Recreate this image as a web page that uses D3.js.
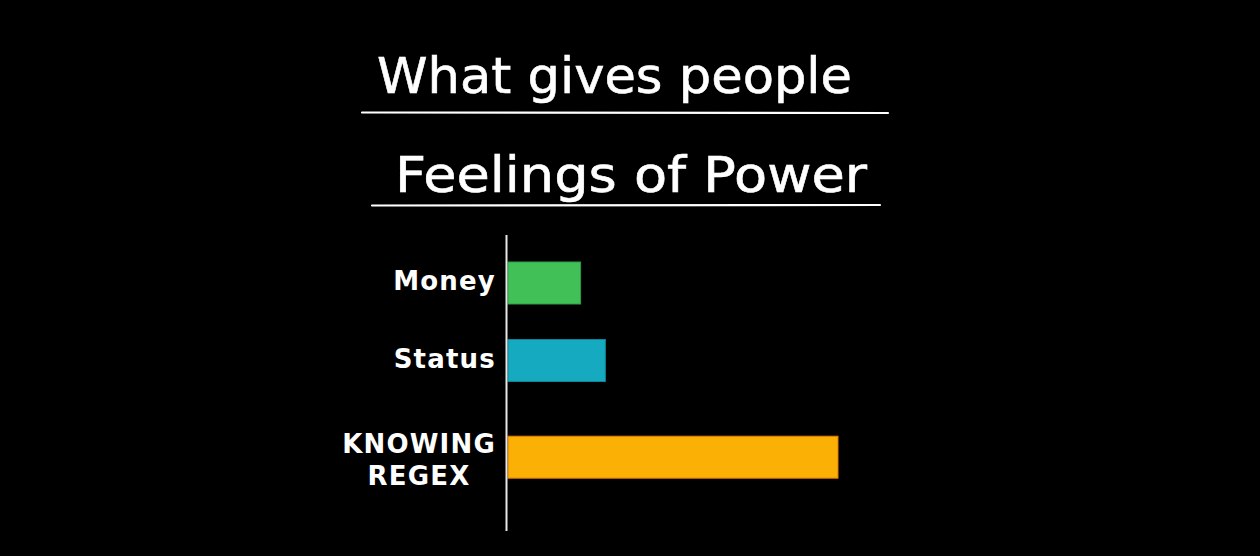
<!DOCTYPE html>
<html>
<head>
<meta charset="utf-8">
<script src="https://cdn.jsdelivr.net/npm/d3@7"></script>
<style>
  html, body { margin: 0; padding: 0; background: #000; }
  svg { display: block; }
</style>
</head>
<body>
<svg id="chart" width="1260" height="556"></svg>
<script>
// ---- data ----
const titleLines = ["What gives people", "Feelings of Power"];
const categories = ["Money", "Status", "KNOWING\nREGEX"];
const values = [22, 29.5, 100];
const fillColors = ["#40c057", "#15aabf", "#fab005"];
const strokeColors = ["#2f9e44", "#0c8599", "#e67700"];

// ---- layout ----
const W = 1260, H = 556;
const svg = d3.select("#chart");
svg.append("rect").attr("width", W).attr("height", H).attr("fill", "#000");

const x = d3.scaleLinear().domain([0, 100]).range([508, 838]);
const yCenter = d3.scaleOrdinal().domain(categories).range([283, 360.5, 457.2]);
const barH = 42;

// title
const titleFont = "'DejaVu Sans', sans-serif";
const titleSpecs = [
  { x: 377, y: 93, len: 475, ulx1: 362, ulx2: 888, uly1: 112.5, uly2: 113 },
  { x: 395, y: 192, len: 472, ulx1: 372, ulx2: 880, uly1: 205.5, uly2: 205 }
];
titleLines.forEach((t, i) => {
  const s = titleSpecs[i];
  svg.append("text")
    .attr("x", s.x).attr("y", s.y)
    .attr("fill", "#fff")
    .attr("stroke", "#fff")
    .attr("stroke-width", 0.6)
    .attr("font-family", titleFont)
    .attr("font-size", 50)
    .attr("textLength", s.len)
    .attr("lengthAdjust", "spacingAndGlyphs")
    .text(t);
  svg.append("line")
    .attr("x1", s.ulx1).attr("x2", s.ulx2)
    .attr("y1", s.uly1).attr("y2", s.uly2)
    .attr("stroke", "#fff").attr("stroke-width", 2.2)
    .attr("stroke-linecap", "round");
});

// bars
svg.append("g").selectAll("rect")
  .data(categories)
  .join("rect")
  .attr("x", x(0))
  .attr("y", d => yCenter(d) - barH / 2)
  .attr("width", (d, i) => x(values[i]) - x(0))
  .attr("height", barH)
  .attr("fill", (d, i) => fillColors[i])
  .attr("stroke", (d, i) => strokeColors[i])
  .attr("stroke-width", 1);

// axis line
svg.append("line")
  .attr("x1", 506.5).attr("x2", 506.5)
  .attr("y1", 235).attr("y2", 531)
  .attr("stroke", "#e8e8e8").attr("stroke-width", 2);

// category labels
const labelRight = 496;
const lh = 31.7;
const lg = svg.append("g")
  .attr("font-family", titleFont)
  .attr("font-weight", "bold")
  .attr("font-size", 26)
  .attr("letter-spacing", 1.2)
  .attr("fill", "#fff");

categories.forEach(c => {
  const lines = c.split("\n");
  const n = lines.length;
  const cy = yCenter(c);
  const offset = 7 + (n - 1) * 5;
  const texts = lines.map((ln, i) =>
    lg.append("text")
      .attr("y", cy + offset + (i - (n - 1) / 2) * lh)
      .text(ln)
  );
  if (n === 1) {
    texts[0].attr("x", labelRight).attr("text-anchor", "end");
  } else {
    const maxW = d3.max(texts, t => t.node().getComputedTextLength());
    texts.forEach(t => t.attr("x", labelRight - maxW / 2).attr("text-anchor", "middle"));
  }
});
</script>
</body>
</html>
